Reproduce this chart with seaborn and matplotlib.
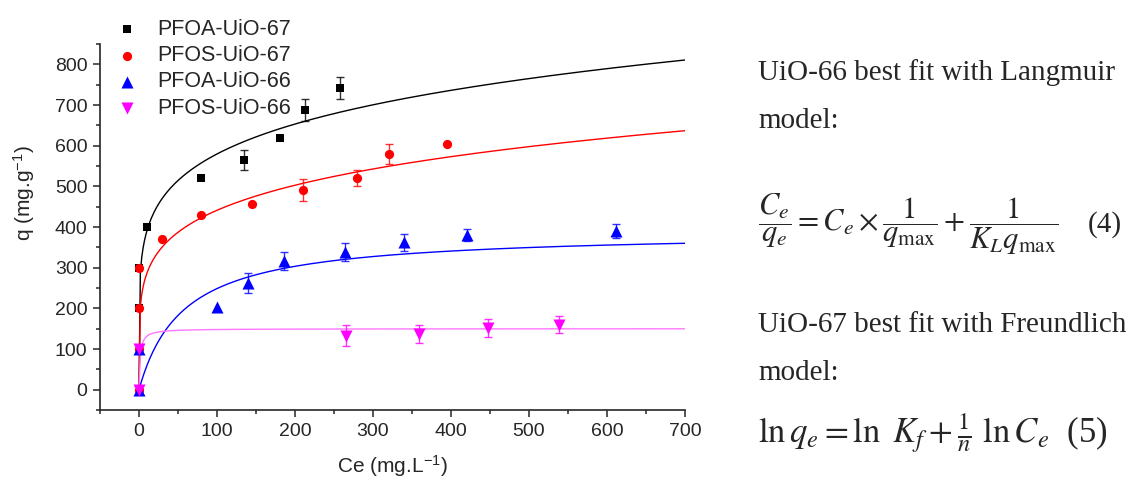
import numpy as np
import matplotlib
matplotlib.use("Agg")
import matplotlib.pyplot as plt
import seaborn as sns
from matplotlib.ticker import MultipleLocator

series_names = ["PFOA-UiO-67", "PFOS-UiO-67", "PFOA-UiO-66", "PFOS-UiO-66"]

pfoa67_ce = [0, 0, 10, 80, 135, 181, 213, 258]
pfoa67_q = [200, 300, 400, 520, 565, 620, 687, 742]
pfoa67_err = [0, 0, 0, 0, 25, 0, 27, 28]

pfos67_ce = [0, 0, 0, 0, 30, 80, 145, 210, 280, 320, 395]
pfos67_q = [0, 100, 200, 300, 370, 430, 457, 490, 520, 580, 605]
pfos67_err = [0, 0, 0, 0, 0, 0, 0, 27, 20, 25, 0]

pfoa66_ce = [0, 0, 100, 140, 186, 264, 340, 421, 612]
pfoa66_q = [0, 100, 203, 263, 317, 339, 362, 380, 390]
pfoa66_err = [0, 0, 0, 25, 22, 22, 22, 15, 18]

pfos66_ce = [0, 0, 266, 359, 447, 539]
pfos66_q = [0, 100, 133, 137, 152, 160]
pfos66_err = [0, 0, 25, 22, 22, 20]

# fitted isotherm parameters (Freundlich for UiO-67, Langmuir for UiO-66)
freundlich_kf = [262.0, 185.0]
freundlich_n = [5.8, 5.3]
langmuir_qmax = [389.0, 150.0]
langmuir_kl = [0.0177, 0.7]

colors = ["#000000", "#ff0000", "#0000ff", "#ff00ff"]
line_colors = ["#000000", "#ff0000", "#0000ff", "#ff77ff"]
markers = ["s", "o", "^", "v"]
marker_sizes = [36, 44, 75, 75]

sns.set_style("ticks")
plt.rcParams["font.family"] = ["Liberation Sans", "DejaVu Sans"]
plt.rcParams["mathtext.fontset"] = "custom"
plt.rcParams["mathtext.rm"] = "Liberation Sans"
plt.rcParams["mathtext.it"] = "Liberation Sans:italic"

fig = plt.figure(figsize=(11.33, 4.79), dpi=100)
ax = fig.add_axes([100 / 1133, 69 / 479, 585 / 1133, 366 / 479])

ce_fit = np.linspace(0, 700, 401)
fits = [
    freundlich_kf[0] * ce_fit ** (1 / freundlich_n[0]),
    freundlich_kf[1] * ce_fit ** (1 / freundlich_n[1]),
    langmuir_qmax[0] * langmuir_kl[0] * ce_fit / (1 + langmuir_kl[0] * ce_fit),
    langmuir_qmax[1] * langmuir_kl[1] * ce_fit / (1 + langmuir_kl[1] * ce_fit),
]
for fit, c in zip(fits, line_colors):
    sns.lineplot(x=ce_fit, y=fit, color=c, lw=1.0, ax=ax, legend=False, zorder=2)

data = [
    (pfoa67_ce, pfoa67_q, pfoa67_err),
    (pfos67_ce, pfos67_q, pfos67_err),
    (pfoa66_ce, pfoa66_q, pfoa66_err),
    (pfos66_ce, pfos66_q, pfos66_err),
]
for (ce, q, err), name, c, m, s in zip(data, series_names, colors, markers, marker_sizes):
    ce, q, err = np.array(ce), np.array(q), np.array(err)
    has = err > 0
    ax.errorbar(ce[has], q[has], yerr=err[has], fmt="none", ecolor=c, elinewidth=1.0,
                capsize=3, capthick=1.0, alpha=0.8, zorder=3)
    sns.scatterplot(x=ce, y=q, color=c, marker=m, s=s, linewidth=0, label=name, ax=ax, zorder=4)

ax.set_xlim(-50, 700)
ax.set_ylim(-50, 850)
ax.xaxis.set_major_locator(MultipleLocator(100))
ax.xaxis.set_minor_locator(MultipleLocator(50))
ax.yaxis.set_major_locator(MultipleLocator(100))
ax.yaxis.set_minor_locator(MultipleLocator(50))
ax.set_yticks(range(0, 801, 100))
ax.tick_params(which="major", length=5, width=1.1, labelsize=14, pad=4)
ax.tick_params(which="minor", length=3, width=1.1)
sns.despine(ax=ax)
for sp in ["left", "bottom"]:
    ax.spines[sp].set_linewidth(1.2)

ax.set_xlabel(r"Ce (mg.L$^{-1}$)", fontsize=15)
ax.set_ylabel(r"q (mg.g$^{-1}$)", fontsize=15)
ax.xaxis.set_label_coords(0.5, -0.118)
ax.yaxis.set_label_coords(-0.108, 0.593)

ax.legend(loc="upper left", bbox_to_anchor=(116 / 1133, 1 - 19 / 479),
          bbox_transform=fig.transFigure, frameon=False, fontsize=15.5,
          handlelength=1.0, handletextpad=0.9, labelspacing=0.24,
          borderpad=0, borderaxespad=0)

# text beside the chart
serif = ["Liberation Serif", "DejaVu Serif"]
fig.text(758 / 1133, 1 - 80 / 479, "UiO-66 best fit with Langmuir", family=serif, fontsize=21, va="baseline")
fig.text(758 / 1133, 1 - 128 / 479, "model:", family=serif, fontsize=21, va="baseline")
fig.text(758 / 1133, 1 - 224 / 479,
         r"$\dfrac{C_e}{q_e} = C_e \times \dfrac{1}{q_{\max}} + \dfrac{1}{K_L q_{\max}}$",
         family=serif, math_fontfamily="stix", fontsize=22, va="center")
fig.text(1088 / 1133, 1 - 232 / 479, "(4)", family=serif, fontsize=21, va="baseline")
fig.text(758 / 1133, 1 - 332 / 479, "UiO-67 best fit with Freundlich", family=serif, fontsize=21, va="baseline")
fig.text(758 / 1133, 1 - 380 / 479, "model:", family=serif, fontsize=21, va="baseline")
fig.text(758 / 1133, 1 - 443 / 479,
         r"$\ln q_e = \ln\ K_f + \frac{1}{n}\ \ln C_e$  (5)",
         family=serif, math_fontfamily="stix", fontsize=25, va="baseline")

fig.savefig("out.png", dpi=100)
